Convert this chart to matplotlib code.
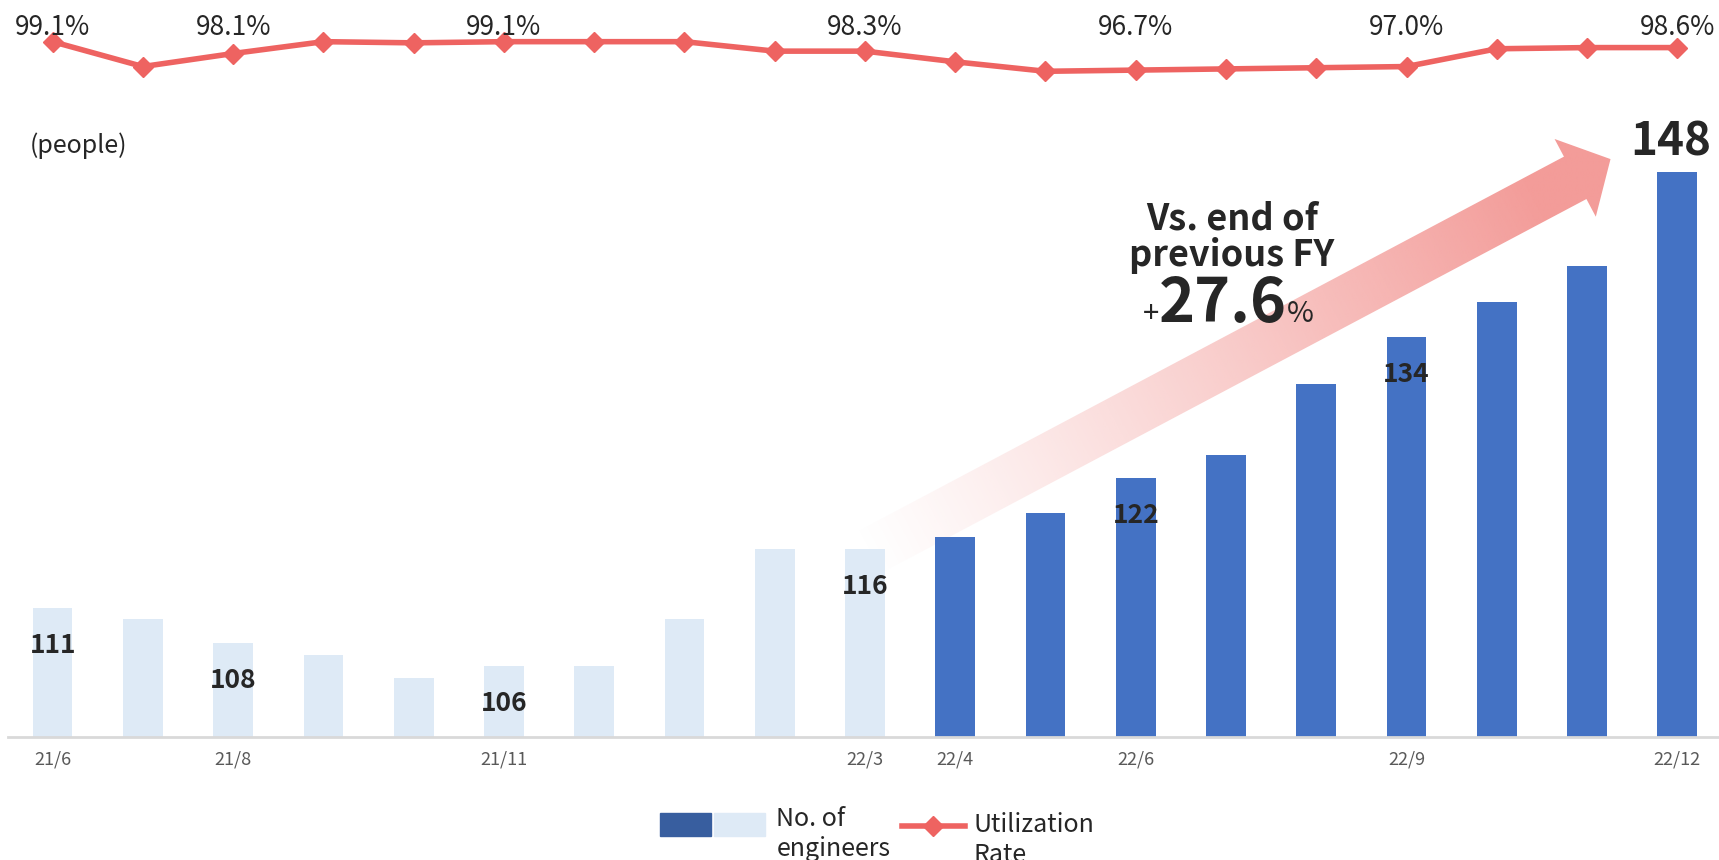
import numpy as np
import matplotlib
matplotlib.use('Agg')
import matplotlib.pyplot as plt
from matplotlib.patches import Polygon, Patch
from matplotlib.lines import Line2D
from matplotlib.legend_handler import HandlerTuple, HandlerPatch, HandlerLine2D
from matplotlib.transforms import Affine2D
from matplotlib.colors import to_rgb

plt.rcParams['font.family'] = ['Noto Sans CJK JP', 'DejaVu Sans']

# ---------------- data ----------------
months = ['21/6', '21/7', '21/8', '21/9', '21/10', '21/11', '21/12', '22/1', '22/2', '22/3',
          '22/4', '22/5', '22/6', '22/7', '22/8', '22/9', '22/10', '22/11', '22/12']
engineers = [111, 110, 108, 107, 105, 106, 106, 110, 116, 116,
             117, 119, 122, 124, 130, 134, 137, 140, 148]
util_rate = [99.1, 97.0, 98.1, 99.1, 99.0, 99.1, 99.1, 99.1, 98.3, 98.3,
             97.4, 96.6, 96.7, 96.8, 96.9, 97.0, 98.5, 98.6, 98.6]
shown_ticks = ['21/6', '21/8', '21/11', '22/3', '22/4', '22/6', '22/9', '22/12']
bar_label_months = ['21/6', '21/8', '21/11', '22/3', '22/6', '22/9']
big_label_month = '22/12'
rate_label_months = ['21/6', '21/8', '21/11', '22/3', '22/6', '22/9', '22/12']
prev_fy_end = '22/3'
growth_text = '27.6'

LIGHT = '#DEEAF6'
DARK = '#4472C4'
LEG_DARK = '#385E9F'
RED = '#EE6361'
TXT = '#262626'

W, H = 1719, 860
fig = plt.figure(figsize=(W / 100, H / 100), dpi=100)

x = np.arange(len(months))
split = months.index(prev_fy_end)
colors = [LIGHT if i <= split else DARK for i in x]

slot = 90.26
left = 7.5 / W
width = len(months) * slot / W
# bar axes
ax = fig.add_axes([left, 1 - 737 / H, width, (737 - 148.5) / H], zorder=2)
ax.patch.set_visible(False)
ax.bar(x, engineers, width=0.44, color=colors, zorder=2)
ax.set_xlim(-0.5, len(months) - 0.5)
ax.set_ylim(100, 150)
for s in ['top', 'right', 'left']:
    ax.spines[s].set_visible(False)
ax.spines['bottom'].set_color('#D9D9D9')
ax.spines['bottom'].set_linewidth(2)
ax.set_yticks([])
ax.set_xticks(x)
ax.set_xticklabels([m if m in shown_ticks else '' for m in months],
                   fontsize=13, color='#595959')
ax.tick_params(axis='x', length=0, pad=10)

for m in bar_label_months:
    i = months.index(m)
    ax.annotate(str(engineers[i]), (i, engineers[i]), xytext=(0, -27),
                textcoords='offset points', ha='center', va='center',
                fontsize=19, fontweight='bold', color=TXT, zorder=5)
i = months.index(big_label_month)
ax.annotate(str(engineers[i]), (i, engineers[i]), xytext=(-5, 21),
            textcoords='offset points', ha='center', va='center',
            fontsize=33, fontweight='bold', color=TXT, annotation_clip=False, zorder=5)

# line axes
ax2 = fig.add_axes([left, 1 - 78.4 / H, width, (78.4 - 31) / H], zorder=3)
ax2.set_xlim(-0.5, len(months) - 0.5)
ax2.set_ylim(96, 100)
ax2.axis('off')
ax2.plot(x, util_rate, color=RED, lw=4, marker='D', ms=10, clip_on=False)
for m in rate_label_months:
    i = months.index(m)
    ax2.text(i, 100.27, f'{util_rate[i]:.1f}%', ha='center', va='center',
             fontsize=19, color=TXT, clip_on=False)

# ---------------- gradient arrow ----------------
fig.canvas.draw()
tail = ax.transData.transform((split, 115.5))
tip = ax.transData.transform((17.26, 149.1))
d = (tip - tail) / np.linalg.norm(tip - tail)
n = np.array([-d[1], d[0]])
sw, hw, hl = 24, 44, 40
base = tip - d * hl
pts = np.array([tail + n * sw, base + n * sw, base + n * hw, tip,
                base - n * hw, base - n * sw, tail - n * sw])
ov = fig.add_axes([0, 0, 1, 1], zorder=1)
ov.set_xlim(0, W)
ov.set_ylim(0, H)
ov.axis('off')
poly = Polygon(pts, closed=True, facecolor='none', edgecolor='none')
ov.add_patch(poly)
xmin, ymin = pts.min(axis=0)
xmax, ymax = pts.max(axis=0)
gx, gy = np.meshgrid(np.linspace(xmin, xmax, 400), np.linspace(ymin, ymax, 300))
L = np.linalg.norm(tip - tail)
t = ((gx - tail[0]) * d[0] + (gy - tail[1]) * d[1]) / L
t = np.clip(t, 0, 1)
alpha = np.clip(t / 0.9, 0, 1) ** 1.1
rgba = np.zeros(gx.shape + (4,))
rgba[..., :3] = to_rgb('#F39C99')
rgba[..., 3] = alpha
im = ov.imshow(rgba, extent=(xmin, xmax, ymin, ymax), origin='lower',
               interpolation='bilinear', aspect='auto')
im.set_clip_path(poly)

# ---------------- annotations ----------------
fig.text(30 / W, 1 - 146 / H, '(people)', fontsize=18, color=TXT, ha='left', va='center')
fig.text(1232 / W, 1 - 219 / H, 'Vs. end of', fontsize=26, fontweight='bold',
         color=TXT, ha='center', va='center', zorder=10)
fig.text(1232 / W, 1 - 256 / H, 'previous FY', fontsize=26, fontweight='bold',
         color=TXT, ha='center', va='center', zorder=10)
fig.text(1223 / W, 1 - 322 / H, growth_text, fontsize=44, fontweight='bold',
         color=TXT, ha='center', va='baseline', zorder=10)
fig.text(1159 / W, 1 - 322 / H, '+', fontsize=21, color=TXT, ha='right',
         va='baseline', zorder=10)
fig.text(1287 / W, 1 - 322 / H, '%', fontsize=21, color=TXT, ha='left',
         va='baseline', zorder=10)


# ---------------- legends ----------------
def shifted(base_cls, dy):
    class _S(base_cls):
        def create_artists(self, legend, orig_handle, xdescent, ydescent,
                           width, height, fontsize, trans):
            return super().create_artists(legend, orig_handle, xdescent, ydescent,
                                          width, height, fontsize,
                                          trans + Affine2D().translate(0, dy))
    return _S()


h1 = (Patch(color=LEG_DARK), Patch(color=LIGHT))
leg1 = fig.legend([h1], ['No. of\nengineers'],
                  handler_map={tuple: HandlerTuple(ndivide=None, pad=0.15),
                               Patch: shifted(HandlerPatch, 11)},
                  loc='center left', bbox_to_anchor=(660 / W, 1 - 834 / H),
                  frameon=False, fontsize=18, handlelength=4.2, handleheight=1.05,
                  handletextpad=0.45, borderpad=0, borderaxespad=0, labelspacing=0)
for t_ in leg1.get_texts():
    t_.set_color(TXT)
h2 = Line2D([], [], color=RED, lw=4, marker='D', ms=10)
leg2 = fig.legend([h2], ['Utilization\nRate'],
                  handler_map={Line2D: shifted(HandlerLine2D, 15)},
                  loc='center left',
                  bbox_to_anchor=(902 / W, 1 - 840 / H), frameon=False, fontsize=18,
                  handlelength=2.5, handletextpad=0.35, borderpad=0, borderaxespad=0)
for t_ in leg2.get_texts():
    t_.set_color(TXT)

fig.savefig('out.png', dpi=100)
